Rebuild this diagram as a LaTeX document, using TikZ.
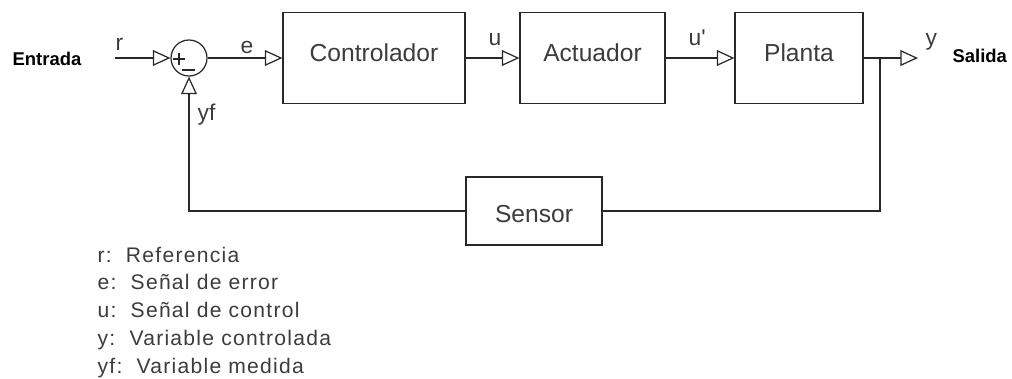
\documentclass[tikz,border=0pt]{standalone}
\usepackage{fontspec}
\setmainfont{Liberation Sans}
\newfontfamily\legendfont[LetterSpace=6]{Liberation Sans}
\usepackage{tikz}
\usetikzlibrary{arrows.meta}
\usepackage{xcolor}
\definecolor{linecolor}{RGB}{40,40,40}
\definecolor{textcolor}{RGB}{60,60,60}

\begin{document}
\begin{tikzpicture}[x=0.02cm,y=-0.02cm,line width=0.7pt,
    sig/.style={draw=linecolor,-{Triangle[open,length=10pt,width=9pt]}},
    wire/.style={draw=linecolor},
    blk/.style={draw=linecolor,rectangle,inner sep=0pt,minimum height=1.82cm,
      text=textcolor,font=\fontsize{14pt}{16pt}\selectfont,text depth=6pt},
    lbl/.style={anchor=base west,inner sep=0pt,text=textcolor,font=\fontsize{13pt}{15pt}\selectfont},
    leg/.style={anchor=base west,inner sep=0pt,text=textcolor,font=\legendfont\fontsize{12pt}{14pt}\selectfont},
    side/.style={anchor=base west,inner sep=0pt,font=\bfseries\fontsize{10.5pt}{13pt}\selectfont}]
        \useasboundingbox (0,0) rectangle (1012,379);
        \node[blk,minimum width=3.64cm] (ctrl) at (374,58) {Controlador};
        \node[blk,minimum width=2.9cm] (act) at (592.5,58) {Actuador};
        \node[blk,minimum width=2.56cm] (plant) at (799,58) {Planta};
        \node[blk,minimum width=2.72cm,minimum height=1.36cm,text height=13.6pt,text depth=0pt] (sens) at (534,211) {Sensor};
        \node[draw=linecolor,circle,minimum size=0.72cm,inner sep=0pt] (sum) at (189,58) {};
        \draw[wire] (173,59) -- (185,59) (179,53) -- (179,65) (182,70) -- (195,70);
        \coordinate (in) at (115,58);
        \coordinate (br) at (880,58);
        \coordinate (out) at (918,58);
        \draw[sig] (in) -- (sum);
        \draw[sig] (sum) -- (ctrl);
        \draw[sig] (ctrl) -- (act);
        \draw[sig] (act) -- (plant);
        \draw[sig] (plant) -- (out);
        \draw[wire] (br) |- (sens);
        \draw[sig] (sens) -| (sum);
        \node[lbl] (rlab) at (115,50) {r};
        \node[lbl] (elab) at (240,53) {e};
        \node[lbl] (ulab) at (488,45) {u};
        \node[lbl] (uplab) at (688,45) {u\textquotesingle};
        \node[lbl] (ylab) at (925,45) {y};
        \node[lbl] (yflab) at (197,120) {yf};
        \node[side] (entrada) at (12,65) {Entrada};
        \node[side] (salida) at (952,62) {Salida};
        \foreach \k/\t [count=\i] in {r/Referencia,e/Señal de error,u/Señal de control,y/Variable controlada,yf/Variable medida}
          \node[leg] (leg\i) at (97,{262+27.8*(\i-1)}) {\k:~~\t};
      \end{tikzpicture}
\end{document}
